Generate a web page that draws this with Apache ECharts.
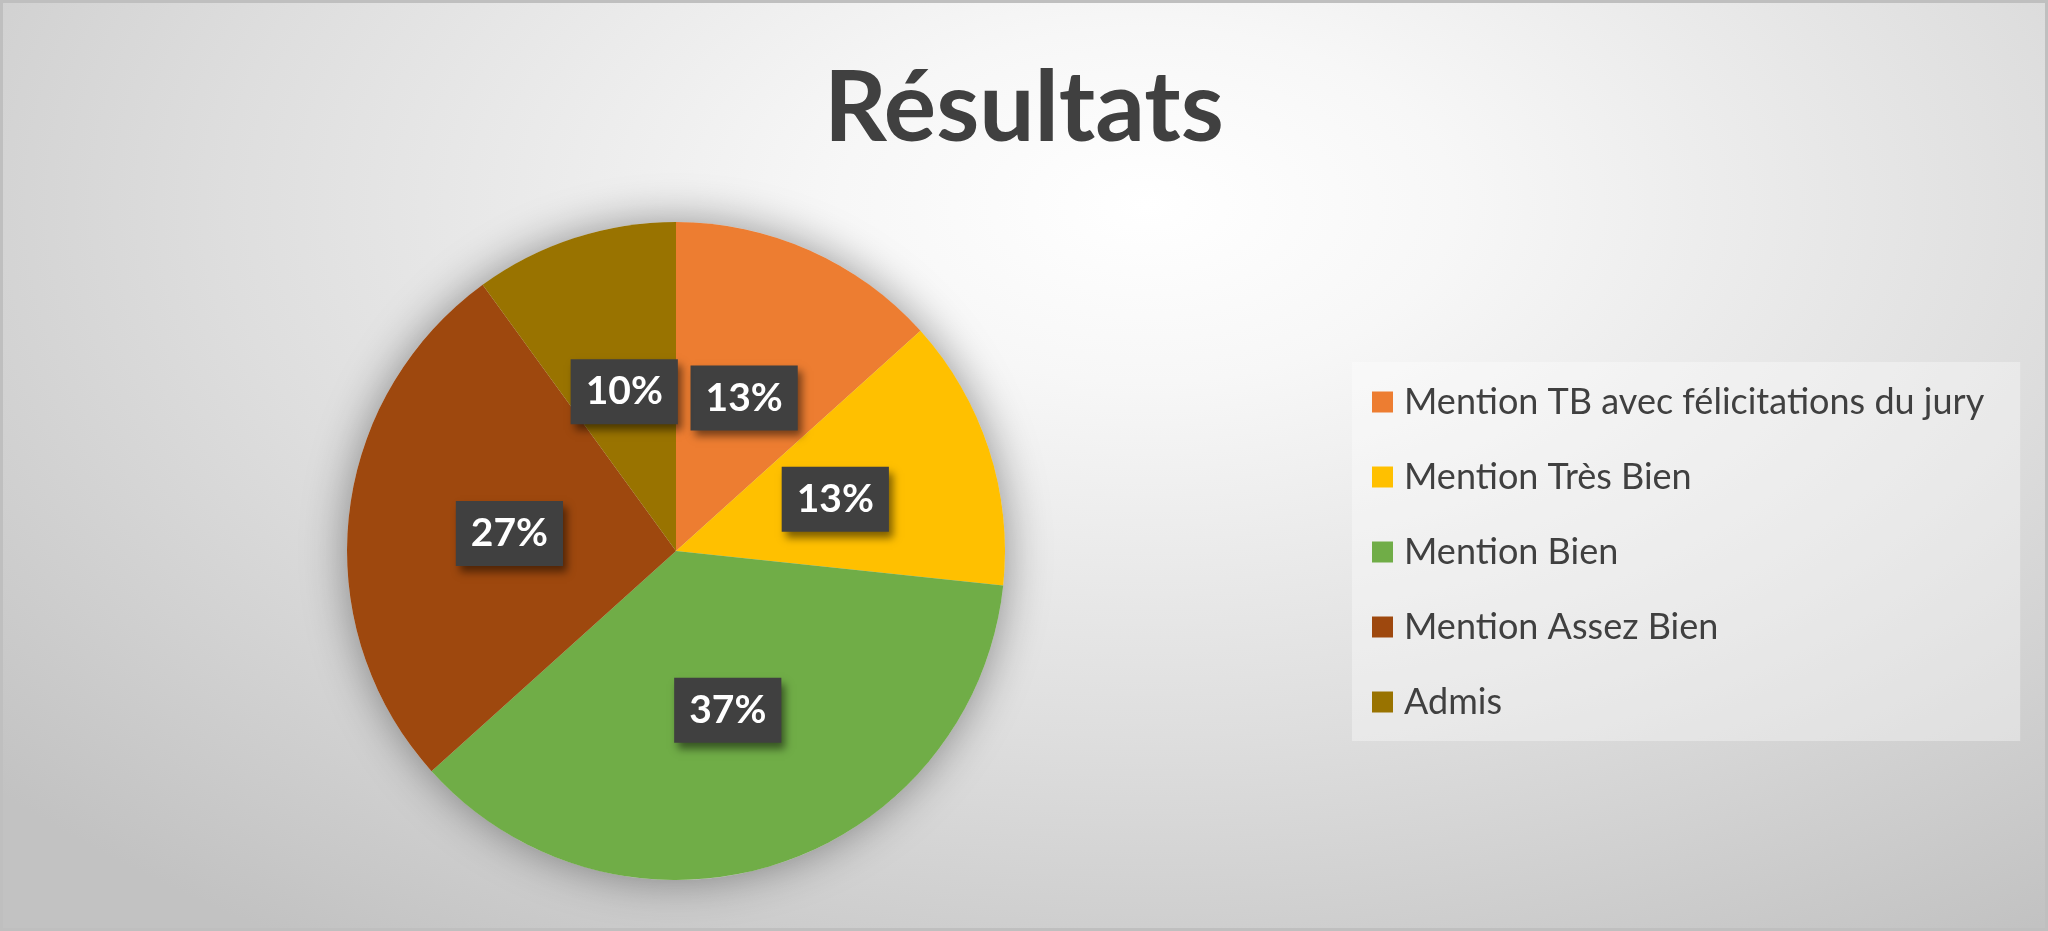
<!DOCTYPE html>
<html>
<head>
<meta charset="utf-8">
<script src="https://cdn.jsdelivr.net/npm/echarts@6/dist/echarts.min.js"></script>
<style>
  html, body { margin: 0; padding: 0; }
  #wrap { position: relative; width: 2048px; height: 931px; }
  #chart {
    width: 2048px; height: 931px;
    background: radial-gradient(ellipse 75% 95% at 56% 22%, #ffffff 0%, #f7f7f7 20%, #dedede 60%, #c2c2c2 100%);
  }
  #frame {
    position: absolute; left: 0; top: 0; width: 2048px; height: 931px;
    box-sizing: border-box; border: 3px solid #bfbfbf; pointer-events: none;
  }
</style>
</head>
<body>
<div id="wrap">
  <div id="chart"></div>
  <div id="frame"></div>
</div>
<script>
var categories = [
    'Mention TB avec félicitations du jury',
    'Mention Très Bien',
    'Mention Bien',
    'Mention Assez Bien',
    'Admis'
];
var counts = [4, 4, 11, 8, 3];
var colors = ['#ED7D31', '#FFC000', '#70AD47', '#9E480E', '#997300'];

var myChart = echarts.init(document.getElementById('chart'));

var pieData = categories.map(function (name, i) {
    return { name: name, value: counts[i] };
});

option = {
    backgroundColor: 'transparent',
    color: colors,
    title: {
        text: 'Résultats',
        left: 'center',
        top: 55,
        textStyle: {
            fontFamily: 'Lato',
            fontWeight: 'bold',
            fontSize: 98,
            color: '#404040'
        }
    },
    legend: {
        orient: 'vertical',
        left: 1352,
        top: 362,
        padding: [22, 36, 21, 20],
        itemGap: 39,
        itemWidth: 21,
        itemHeight: 21,
        icon: 'rect',
        backgroundColor: 'rgba(255,255,255,0.35)',
        data: categories,
        textStyle: {
            fontFamily: 'Lato',
            fontSize: 36,
            color: '#404040',
            padding: [0, 0, 0, 6]
        }
    },
    series: [
        {
            // soft shadow behind the pie
            type: 'pie',
            silent: true,
            center: [676, 551],
            radius: 329,
            z: 1,
            label: { show: false },
            labelLine: { show: false },
            itemStyle: {
                color: '#dcdcdc',
                shadowBlur: 45,
                shadowColor: 'rgba(0,0,0,0.4)'
            },
            data: [{ name: '', value: 1 }]
        },
        {
            name: 'Résultats',
            type: 'pie',
            center: [676, 551],
            radius: 329,
            startAngle: 90,
            percentPrecision: 0,
            z: 2,
            label: {
                show: true,
                position: 'inside',
                formatter: '{d}%',
                fontFamily: 'Lato',
                fontWeight: 'bold',
                fontSize: 39,
                color: '#ffffff',
                backgroundColor: '#404040',
                padding: [13, 15, 13, 15],
                shadowBlur: 8,
                shadowOffsetX: 4,
                shadowOffsetY: 6,
                shadowColor: 'rgba(0,0,0,0.5)'
            },
            labelLine: { show: false },
            emphasis: { disabled: true },
            data: pieData
        }
    ]
};

myChart.setOption(option);
</script>
</body>
</html>
